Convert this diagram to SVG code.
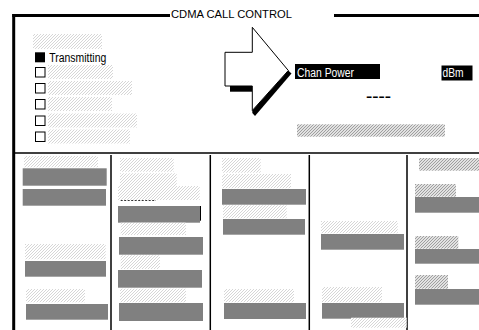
<svg xmlns="http://www.w3.org/2000/svg" width="479" height="330" viewBox="0 0 479 330">
<style>
.frame{stroke:#000;fill:none}
.div{stroke:#000;stroke-width:1.5;fill:none}
.hl{fill:url(#hatchLight)}
.hd{fill:url(#hatchDark)}
.gb{fill:#808080}
.cb{fill:#fff;stroke:#000;stroke-width:1}
.t{font-family:"Liberation Sans",Arial,sans-serif}
</style>
<defs>
<pattern id="hatchLight" patternUnits="userSpaceOnUse" width="3" height="3">
<rect width="3" height="3" fill="#fff"/>
<path d="M0,3 L3,0 M-1,1 L1,-1 M2,4 L4,2" stroke="#d6d6d6" stroke-width="1"/>
</pattern>
<pattern id="hatchDark" patternUnits="userSpaceOnUse" width="3" height="3">
<rect width="3" height="3" fill="#fff"/>
<path d="M0,3 L3,0 M-1,1 L1,-1 M2,4 L4,2" stroke="#9a9a9a" stroke-width="1.1"/>
</pattern>
</defs>
<rect width="479" height="330" fill="#fff"/>

<g id="frame">
<line class="frame" x1="12.3" y1="15.5" x2="170" y2="15.5" stroke-width="3"/>
<line class="frame" x1="334" y1="15.5" x2="479" y2="15.5" stroke-width="3"/>
<line class="frame" x1="13.7" y1="14" x2="13.7" y2="330" stroke-width="3"/>
<text class="t" x="171" y="18" font-size="11" textLength="121" lengthAdjust="spacingAndGlyphs">CDMA CALL CONTROL</text>
</g>

<g id="status-list">
<rect class="hl" x="33" y="34" width="69" height="15"/>
<rect x="35" y="52.3" width="10" height="10" fill="#000"/>
<text class="t" x="49.3" y="61.5" font-size="12.5" textLength="57" lengthAdjust="spacingAndGlyphs">Transmitting</text>
<rect class="cb" x="35.5" y="67.5" width="9.5" height="9.5"/>
<rect class="hl" x="48" y="65" width="65" height="14"/>
<rect class="cb" x="35.5" y="83.5" width="9.5" height="9.5"/>
<rect class="hl" x="48" y="81" width="84" height="14"/>
<rect class="cb" x="35.5" y="99.5" width="9.5" height="9.5"/>
<rect class="hl" x="48" y="97" width="64" height="14"/>
<rect class="cb" x="35.5" y="116" width="9.5" height="9.5"/>
<rect class="hl" x="48" y="113.5" width="89" height="14"/>
<rect class="cb" x="35.5" y="132" width="9.5" height="9.5"/>
<rect class="hl" x="48" y="129.5" width="82" height="14"/>
</g>

<g id="arrow">
<rect x="230" y="86" width="22.3" height="5.7" fill="#000"/>
<polygon points="252.3,110.5 288.3,70.5 291.5,73.5 255,116 252.3,113" fill="#000"/>
<polygon points="225,52.3 252.3,52.3 252.3,27.3 288.3,70.5 252.3,110.5 252.3,86 225,86" fill="#fff" stroke="#000" stroke-width="1"/>
</g>

<g id="chan-power">
<rect x="295" y="64" width="85" height="15" fill="#000"/>
<text class="t" x="297" y="76.5" font-size="12.5" fill="#fff" textLength="57" lengthAdjust="spacingAndGlyphs">Chan Power</text>
<rect x="441.5" y="65.5" width="31" height="15" fill="#000"/>
<text class="t" x="442.5" y="76.5" font-size="12.5" fill="#fff" textLength="21" lengthAdjust="spacingAndGlyphs">dBm</text>
<text class="t" x="366" y="101" font-size="13" font-weight="bold" textLength="25" lengthAdjust="spacingAndGlyphs">----</text>
<rect class="hd" x="297" y="124.3" width="148" height="12.4"/>
</g>

<g id="dividers">
<line class="div" x1="15" y1="153" x2="479" y2="153"/>
<line class="div" x1="111" y1="155" x2="111" y2="330"/>
<line class="div" x1="210.3" y1="155" x2="210.3" y2="330"/>
<line class="div" x1="309.3" y1="155" x2="309.3" y2="330"/>
<line class="div" x1="407" y1="155" x2="407" y2="330"/>
</g>

<g id="column1">
<rect class="hl" x="24" y="156" width="74" height="11.3"/>
<rect class="gb" x="22.7" y="168.3" width="84" height="17.4"/>
<rect class="gb" x="22.7" y="189" width="83.3" height="16.7"/>
<rect class="hl" x="25" y="244" width="80.7" height="15.3"/>
<rect class="gb" x="25" y="261" width="81" height="15.7"/>
<rect class="hl" x="26" y="289" width="59" height="13.3"/>
<rect class="gb" x="26" y="304" width="82" height="15.7"/>
</g>

<g id="column2">
<rect class="hl" x="120" y="158" width="53.7" height="13.7"/>
<rect class="hl" x="120" y="173.3" width="56.7" height="12.7"/>
<rect class="hl" x="118" y="186" width="81.7" height="14"/>
<line x1="120.7" y1="200.5" x2="156" y2="200.5" stroke="#333" stroke-width="1" stroke-dasharray="2,1.5"/>
<rect class="gb" x="118" y="206" width="82" height="16.7"/>
<line x1="200.5" y1="206" x2="200.5" y2="220.7" stroke="#000" stroke-width="1"/>
<rect class="hl" x="120.7" y="222.7" width="65.3" height="12.3"/>
<rect class="gb" x="119" y="237" width="84" height="17.7"/>
<rect class="hl" x="120.7" y="255.3" width="39.3" height="13.7"/>
<rect class="gb" x="118" y="270" width="84" height="17.7"/>
<rect class="hl" x="120" y="288.7" width="66" height="13.6"/>
<rect class="gb" x="119" y="303" width="84" height="18"/>
</g>

<g id="column3">
<rect class="hl" x="222" y="158" width="38.7" height="14.7"/>
<rect class="hl" x="222" y="174" width="69" height="14.3"/>
<rect class="gb" x="222" y="189" width="84" height="15.7"/>
<rect class="hl" x="223" y="205.3" width="63.7" height="13"/>
<rect class="gb" x="223" y="219" width="82" height="15.7"/>
<rect class="hl" x="224" y="289" width="70" height="13.3"/>
<rect class="gb" x="224" y="303" width="82" height="16"/>
</g>

<g id="column4">
<rect class="hl" x="321" y="221" width="76.7" height="12.3"/>
<rect class="gb" x="321" y="234" width="83" height="15.7"/>
<rect class="hl" x="322" y="287" width="60" height="15.3"/>
<rect class="gb" x="322" y="303" width="82" height="15.7"/>
<rect class="hl" x="351" y="317.7" width="55.7" height="10"/>
</g>

<g id="column5">
<rect class="hd" x="419" y="158" width="60" height="12.7"/>
<rect class="hd" x="415" y="184" width="41" height="12.7"/>
<rect class="gb" x="415" y="197" width="64" height="15.7"/>
<rect class="hd" x="415" y="236" width="43.3" height="12.7"/>
<rect class="gb" x="415" y="249" width="64" height="14.7"/>
<rect class="hd" x="415" y="275" width="33" height="13.7"/>
<rect class="gb" x="415" y="289" width="64" height="15.7"/>
</g>
</svg>
